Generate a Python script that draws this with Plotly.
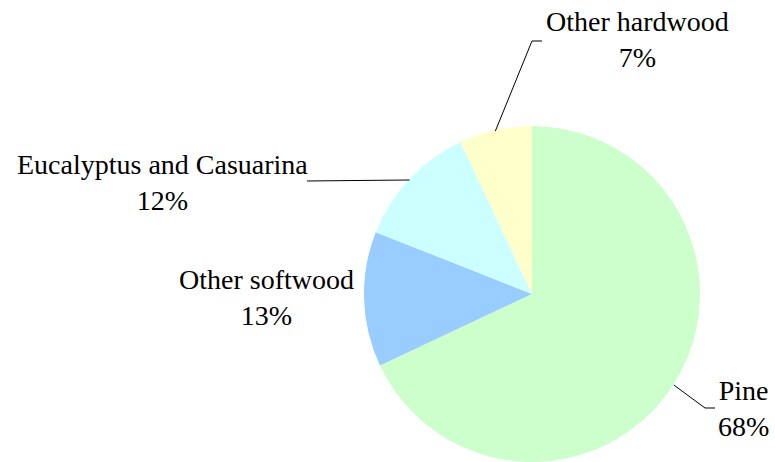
import numpy as np
import plotly.graph_objects as go

W, H = 775, 462

species = ['Pine', 'Other softwood', 'Eucalyptus and Casuarina', 'Other hardwood']
shares = [68, 13, 12, 7]
colours = ['#CCFFCC', '#99CCFF', '#CCFFFF', '#FFFFCC']

# label placement (pixels from top-left), and leader elbows (None = no leader)
label_xy = [(743, 408), (266, 297), (162, 183), (637, 40)]
elbows = [[(705, 408), (715, 408)], None, [(307, 181)], [(532, 41), (542, 41)]]

# pie geometry in pixels
cx, cy, r = 532, 295, 168

FONT = "Liberation Serif, Times New Roman, DejaVu Serif, serif"

def px_x(x):
    return x / W

def px_y(y):
    return 1 - y / H

fig = go.Figure(go.Pie(
    labels=species, values=shares,
    marker=dict(colors=colours, line=dict(width=0)),
    sort=False, direction='clockwise', rotation=0,
    textinfo='none', showlegend=False,
    domain=dict(x=[px_x(cx - r), px_x(cx + r)], y=[0, (2 * r) / H]),
))

# mid-angle of each slice, clockwise from 12 o'clock
cum = np.cumsum([0] + shares)
total = sum(shares)
for i, name in enumerate(species):
    lx, ly = label_xy[i]
    fig.add_annotation(
        x=px_x(lx), y=px_y(ly), xref='paper', yref='paper',
        text=f'{name}<br>{shares[i]}%', showarrow=False,
        xanchor='center', yanchor='middle', align='center',
        font=dict(family=FONT, size=28, color='black'),
    )
    if elbows[i] is None:
        continue
    ang = np.deg2rad((cum[i] + shares[i] / 2) / total * 360)
    pts = [(cx + r * np.sin(ang), cy - r * np.cos(ang))] + elbows[i]
    path = 'M ' + ' L '.join(f'{px_x(x):.5f},{px_y(y):.5f}' for x, y in pts)
    fig.add_shape(type='path', path=path, xref='paper', yref='paper',
                  line=dict(color='black', width=1))

fig.update_layout(
    width=W, height=H,
    margin=dict(l=0, r=0, t=0, b=0),
    paper_bgcolor='white', plot_bgcolor='white',
    font=dict(family=FONT),
)

fig.write_html("out.html", config={'displayModeBar': False},
               post_script="document.body.style.margin='0';")
